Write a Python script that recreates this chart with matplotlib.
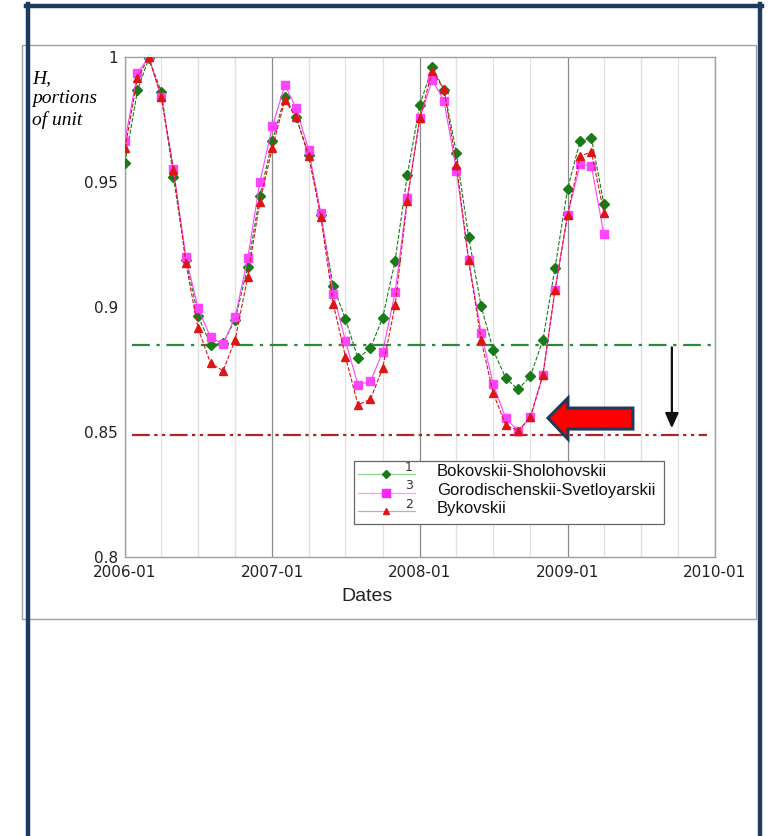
import datetime as dt

import matplotlib
matplotlib.use("Agg")
import matplotlib.dates as mdates
import matplotlib.pyplot as plt
import pandas as pd
from matplotlib.lines import Line2D
from matplotlib.patches import Polygon, Rectangle

# monthly values, Jan 2006 .. Apr 2009
dates = pd.date_range("2006-01-01", periods=40, freq="MS")

bokovskii_sholohovskii = [0.9577, 0.9867, 0.9995, 0.9861, 0.952, 0.919, 0.8965, 0.8849,
                          0.8855, 0.895, 0.9161, 0.9445, 0.9665, 0.9841, 0.9759, 0.961,
                          0.937, 0.9083, 0.8952, 0.8795, 0.8836, 0.8956, 0.9185, 0.9527,
                          0.9808, 0.9959, 0.987, 0.9615, 0.9281, 0.9004, 0.8828, 0.8715,
                          0.8671, 0.8724, 0.8868, 0.9157, 0.9472, 0.9664, 0.9677, 0.9412]
gorodischenskii = [0.9665, 0.9937, 1.0, 0.9839, 0.9552, 0.920, 0.8995, 0.8879,
                   0.8852, 0.8961, 0.9196, 0.9499, 0.9723, 0.9888, 0.9796, 0.9628,
                   0.9375, 0.9052, 0.8864, 0.8689, 0.8703, 0.8819, 0.9059, 0.9435,
                   0.9755, 0.9908, 0.9825, 0.9545, 0.9188, 0.8897, 0.8691, 0.8555,
                   0.8504, 0.8559, 0.8728, 0.9068, 0.9368, 0.9571, 0.9565, 0.9291]
bykovskii = [0.9635, 0.9915, 1.0, 0.984, 0.955, 0.9175, 0.8915, 0.8775,
             0.8745, 0.887, 0.9121, 0.9421, 0.9637, 0.9828, 0.9759, 0.9604,
             0.9361, 0.9012, 0.8801, 0.8609, 0.8631, 0.8755, 0.9008, 0.9425,
             0.9755, 0.9945, 0.9871, 0.9568, 0.9188, 0.8868, 0.8655, 0.8528,
             0.8505, 0.856, 0.8728, 0.9068, 0.9368, 0.9604, 0.9621, 0.9377]

level_green = 0.885
level_red = 0.849

y_ticks = [0.8, 0.85, 0.9, 0.95, 1.0]
y_tick_labels = ["0.8", "0.85", "0.9", "0.95", "1"]
dark_quarters = ["2006-07-01", "2006-10-01", "2007-04-01", "2008-04-01", "2009-07-01"]

legend_rows = [("1", "Bokovskii-Sholohovskii", "D", "#1a7a1a", "#8fcf8f", 4.5),
               ("3", "Gorodischenskii-Svetloyarskii", "s", "#ff22ff", "#ff9cff", 5.5),
               ("2", "Bykovskii", "^", "#dd1515", "#ee9a9a", 5)]

fig = plt.figure(figsize=(7.69, 8.36), dpi=100)
ax = fig.add_axes([0.1625, 0.3337, 0.7672, 0.598])

# grid
ax.set_xlim(dt.date(2006, 1, 1), dt.date(2010, 1, 1))
ax.set_ylim(0.8, 1.0)
ax.xaxis.set_major_locator(mdates.YearLocator())
ax.xaxis.set_major_formatter(mdates.DateFormatter("%Y-%m"))
ax.xaxis.set_minor_locator(mdates.MonthLocator(bymonth=[4, 7, 10]))
ax.grid(which="major", axis="x", color="#8a8a8a", lw=0.9)
ax.grid(which="minor", axis="x", color="#e2e2e2", lw=0.9)
for q in dark_quarters:
    ax.axvline(pd.Timestamp(q), color="#9a9a9a", lw=0.8, ls=(0, (2, 1.5)), zorder=0.5)

ax.axhline(level_green, xmin=0.012, xmax=0.997, color="#2a8a3a", lw=1.6,
           ls=(0, (8, 3, 1.5, 3)), zorder=2)
ax.axhline(level_red, xmin=0.012, xmax=0.986, color="#b02525", lw=1.6,
           ls=(0, (8, 2, 1.5, 2, 1.5, 2)), zorder=2)

ax.plot(dates, bokovskii_sholohovskii, ls="--", lw=0.8, color="#1a7a1a", marker="D",
        ms=4.8, zorder=3)
ax.plot(dates, gorodischenskii, ls="-", lw=0.8, color="#ff44ff", marker="s",
        ms=5.8, zorder=4)
ax.plot(dates, bykovskii, ls="--", lw=0.8, color="#dd1515", marker="^",
        ms=5.3, zorder=5)

ax.set_yticks(y_ticks)
ax.set_yticklabels(y_tick_labels)
ax.tick_params(which="both", length=0, labelsize=11, colors="#222222")
ax.tick_params(axis="y", pad=5)
ax.tick_params(axis="x", pad=6)
for sp in ax.spines.values():
    sp.set_color("#a0a0a0")
    sp.set_linewidth(1.0)

ax.text(0.41, -0.078, "Dates", transform=ax.transAxes, ha="center", va="center",
        fontsize=14, family="Liberation Sans", color="#222222")
fig.text(0.0416, 1 - 70 / 836, "H,\nportions\nof unit", ha="left", va="top",
         fontsize=14, family="Liberation Serif", style="italic", linespacing=1.25)

# legend drawn by hand
ax.add_patch(Rectangle((0.388, 0.066), 0.526, 0.126, transform=ax.transAxes,
                       facecolor="white", edgecolor="#666666", lw=0.9, zorder=6))
for i, (num, name, mk, c, lc, ms) in enumerate(legend_rows):
    yy = 0.166 - i * 0.037
    ax.add_line(Line2D([0.395, 0.4915], [yy, yy], transform=ax.transAxes, color=lc,
                       lw=0.9, zorder=7))
    ax.add_line(Line2D([0.442], [yy], transform=ax.transAxes, marker=mk, color=c,
                       ms=ms, zorder=8))
    ax.text(0.481, yy + 0.001, num, transform=ax.transAxes, ha="center", va="bottom",
            fontsize=9, color="#333333", zorder=8)
    ax.text(0.529, yy + 0.005, name, transform=ax.transAxes, ha="left", va="center",
            fontsize=12, family="Liberation Sans", color="#111111", zorder=8)

# big red arrow and black arrow
ax.add_patch(Polygon([(0.717, 0.278), (0.7508, 0.318), (0.7508, 0.298), (0.861, 0.298),
                      (0.861, 0.256), (0.7508, 0.256), (0.7508, 0.236)],
                     closed=True, transform=ax.transAxes, facecolor="#ff0000",
                     edgecolor="#1f3a5a", lw=2.2, zorder=9))
ax.annotate("", xy=(0.927, 0.252), xytext=(0.927, 0.425), xycoords="axes fraction",
            arrowprops=dict(arrowstyle="-|>,head_length=0.9,head_width=0.4",
                            color="#111111", lw=1.6), zorder=9)

# frames
fig.add_artist(Rectangle((22 / 769, 1 - 619 / 836), 734 / 769, 574 / 836,
                         transform=fig.transFigure, fill=False, edgecolor="#a0a0a0",
                         lw=1.0))
navy = "#1e3a5c"
fig.add_artist(Line2D([28 / 769, 28 / 769], [0, 1 - 4 / 836], transform=fig.transFigure,
                      color=navy, lw=3.2))
fig.add_artist(Line2D([760 / 769, 760 / 769], [0, 1 - 4 / 836], transform=fig.transFigure,
                      color=navy, lw=3.2))
fig.add_artist(Line2D([26 / 769, 762 / 769], [1 - 6 / 836, 1 - 6 / 836],
                      transform=fig.transFigure, color=navy, lw=3.2))

fig.savefig("out.png", dpi=100)
